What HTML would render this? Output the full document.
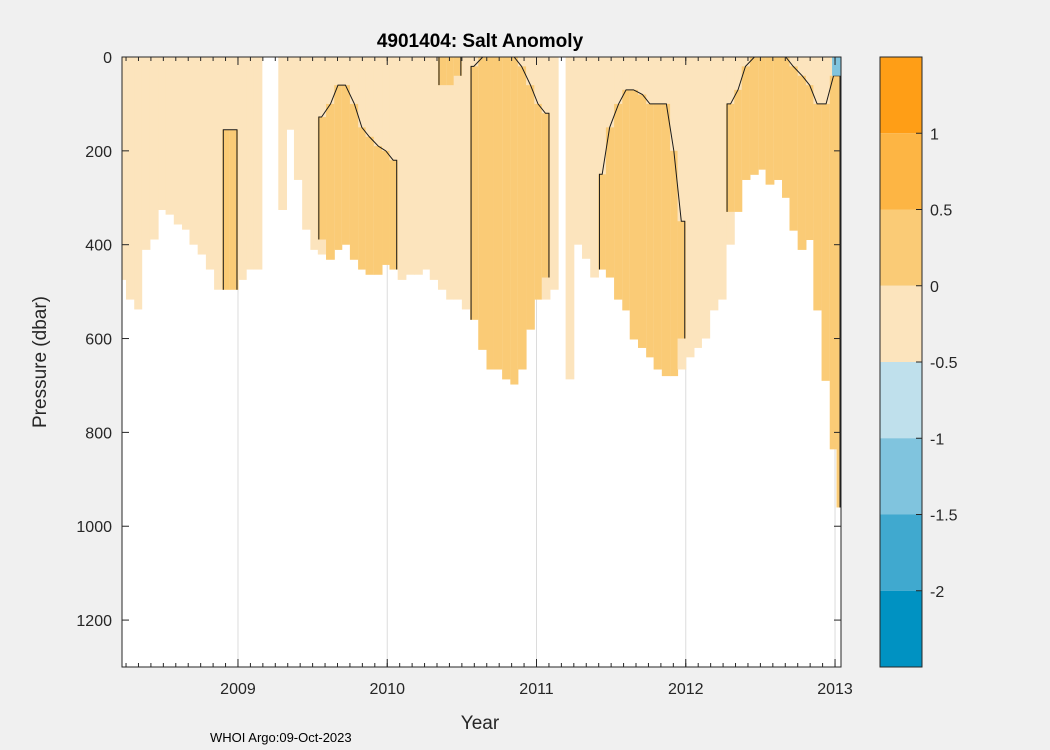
<!DOCTYPE html>
<html><head><meta charset="utf-8"><style>
body{margin:0;background:#f0f0f0;}
svg{display:block;font-family:"Liberation Sans",sans-serif;}
</style></head><body>
<svg id="chart" width="1050" height="750" viewBox="0 0 1050 750">
<rect width="1050" height="750" fill="#f0f0f0"/>
<g id="plot"></g>
<text x="480" y="47" text-anchor="middle" font-size="19" font-weight="bold">4901404: Salt Anomoly</text>
<text x="480" y="729" text-anchor="middle" font-size="19" fill="#262626">Year</text>
<text transform="translate(46,362) rotate(-90)" text-anchor="middle" font-size="19" fill="#262626">Pressure (dbar)</text>
<text x="210" y="742" font-size="13">WHOI Argo:09-Oct-2023</text>
</svg>
<script>
const times=[2008.22,2008.28,2008.33,2008.38,2008.44,2008.49,2008.54,2008.60,2008.65,2008.70,2008.76,2008.81,2008.87,2008.92,2008.97,2009.03,2009.08,2009.13,2009.19,2009.24,2009.30,2009.35,2009.40,2009.46,2009.51,2009.56,2009.62,2009.67,2009.72,2009.78,2009.83,2009.88,2009.94,2009.99,2010.04,2010.10,2010.15,2010.21,2010.26,2010.31,2010.37,2010.42,2010.47,2010.53,2010.58,2010.64,2010.69,2010.74,2010.80,2010.85,2010.90,2010.96,2011.01,2011.06,2011.12,2011.17,2011.22,2011.28,2011.33,2011.39,2011.44,2011.49,2011.55,2011.60,2011.65,2011.71,2011.76,2011.81,2011.87,2011.92,2011.97,2012.03,2012.08,2012.13,2012.19,2012.24,2012.30,2012.35,2012.40,2012.46,2012.51,2012.56,2012.62,2012.67,2012.72,2012.78,2012.83,2012.88,2012.94,2012.99,2013.03];
const maxPres=[475,517,538,411,389,326,336,357,368,400,421,453,496,496,496,475,453,453,0,0,326,155,262,368,411,421,432,411,400,432,453,464,464,443,453,475,464,464,453,475,496,517,517,538,560,624,666,666,687,698,666,581,517,517,496,0,687,400,430,470,453,470,517,540,602,620,640,666,680,680,666,640,620,600,540,517,400,330,262,251,240,272,262,300,370,411,390,540,690,836,960];
const posTop=[-1,-1,-1,-1,-1,-1,-1,-1,-1,-1,-1,-1,-1,155,155,-1,-1,-1,-1,-1,-1,-1,-1,-1,-1,128,100,60,60,100,150,170,190,200,220,-1,-1,-1,-1,-1,0,0,0,-1,20,0,0,0,0,0,20,60,100,120,-1,-1,-1,-1,-1,-1,250,150,100,70,70,80,100,100,100,200,350,-1,-1,-1,-1,-1,100,70,20,0,0,0,0,0,20,40,60,100,100,40,40];
const posBot=[-1,-1,-1,-1,-1,-1,-1,-1,-1,-1,-1,-1,-1,496,496,-1,-1,-1,-1,-1,-1,-1,-1,-1,-1,389,432,411,400,432,453,464,464,443,453,-1,-1,-1,-1,-1,60,60,40,-1,560,624,666,666,687,698,666,581,517,470,-1,-1,-1,-1,-1,-1,453,470,517,540,602,620,640,666,680,680,600,-1,-1,-1,-1,-1,330,330,262,251,240,272,262,300,370,411,390,540,690,836,960];
const yTicks=[0,200,400,600,800,1000,1200];
const xTicks=[2009,2010,2011,2012,2013];
const cbLevels=[1.5,1,0.5,0,-0.5,-1,-1.5,-2,-2.5];
const cbColors=["#ff9e16","#fdb544","#facb76","#fce4bd","#bfe0ec","#80c4de","#40a9cf","#0092c2"];
const cbLabels=["1","0.5","0","-0.5","-1","-1.5","-2"];

const L=122,R=841,T=57,B=667,X0=2008.223,X1=2013.04,P1=1300;
const sx=v=>L+(v-X0)/(X1-X0)*(R-L);
const sy=p=>T+p/P1*(B-T);
const NS="http://www.w3.org/2000/svg";
const g=document.getElementById('plot');
function mk(tag,attrs,parent){const e=document.createElementNS(NS,tag);for(const k in attrs)e.setAttribute(k,attrs[k]);(parent||g).appendChild(e);return e;}
mk('rect',{x:L,y:T,width:R-L,height:B-T,fill:'#ffffff'});
xTicks.forEach(t=>{const l=mk('line',{x1:sx(t),x2:sx(t),y1:T,y2:B,stroke:'#dcdcdc','stroke-width':1});

});
const edges=[];
for(let i=0;i<times.length;i++){
  const x0=i===0?L:(sx(times[i-1])+sx(times[i]))/2;
  const x1=i===times.length-1?R:Math.min(R,(sx(times[i])+sx(times[i+1]))/2);
  edges.push([x0,x1]);
  if(maxPres[i]>0){const r=mk('rect',{x:x0,y:T,width:x1-x0+0.5,height:sy(maxPres[i])-T,fill:'#fce4bd'});
  
  }
  if(posTop[i]>=0){const r=mk('rect',{x:x0,y:sy(posTop[i]),width:x1-x0+0.5,height:sy(posBot[i])-sy(posTop[i]),fill:'#facb76'});
  
  }
}
let i=0;
while(i<times.length){
  if(posTop[i]<0){i++;continue;}
  let j=i;while(j+1<times.length&&posTop[j+1]>=0)j++;
  const pts=[];
  pts.push([edges[i][0]+1,sy(posBot[i])]);
  pts.push([edges[i][0]+1,sy(posTop[i])]);
  for(let k=i;k<=j;k++)pts.push([sx(times[k]),sy(posTop[k])]);
  pts.push([Math.min(edges[j][1]-1,R-1),sy(posTop[j])]);
  pts.push([Math.min(edges[j][1]-1,R-1),sy(posBot[j])]);
  const pl=mk('polyline',{points:pts.map(p=>p.join(',')).join(' '),fill:'none',stroke:'#1a1a1a','stroke-width':1});
  
  
  i=j+1;
}
const bl=mk('rect',{x:sx(2012.98),y:T,width:R-sx(2012.98),height:sy(40)-T,fill:'#80c4de'});


mk('rect',{x:L,y:T,width:R-L,height:B-T,fill:'none',stroke:'#262626','stroke-width':1});
yTicks.forEach(p=>{const y=sy(p);
 mk('line',{x1:L,x2:L+7,y1:y,y2:y,stroke:'#262626'});mk('line',{x1:R-7,x2:R,y1:y,y2:y,stroke:'#262626'});
 const t=mk('text',{x:L-10,y:y+6,'text-anchor':'end','font-size':16,fill:'#262626'});t.textContent=p;
 
 });
for(let m=2008+3/12;m<X1;m+=1/12){const x=sx(m);if(x<L)continue;
 mk('line',{x1:x,x2:x,y1:B,y2:B-4,stroke:'#262626'});mk('line',{x1:x,x2:x,y1:T,y2:T+4,stroke:'#262626'});}
xTicks.forEach(t=>{const x=sx(t);mk('line',{x1:x,x2:x,y1:B,y2:B-8,stroke:'#262626'});mk('line',{x1:x,x2:x,y1:T,y2:T+8,stroke:'#262626'});
 const e=mk('text',{x:x,y:B+27,'text-anchor':'middle','font-size':16,fill:'#262626'});e.textContent=t;
 
 });
const CL=880,CR=922;
const cy=v=>T+(cbLevels[0]-v)/(cbLevels[0]-cbLevels[cbLevels.length-1])*(B-T);
cbColors.forEach((c,i)=>{const r=mk('rect',{x:CL,y:cy(cbLevels[i]),width:CR-CL,height:cy(cbLevels[i+1])-cy(cbLevels[i]),fill:c});
 
 });
mk('rect',{x:CL,y:T,width:CR-CL,height:B-T,fill:'none',stroke:'#262626'});
cbLabels.forEach(s=>{const y=cy(parseFloat(s));mk('line',{x1:CR-6,x2:CR,y1:y,y2:y,stroke:'#262626'});
 const t=mk('text',{x:930,y:y+6,'font-size':16,fill:'#262626'});t.textContent=s;
 
 });
</script>
</body></html>
